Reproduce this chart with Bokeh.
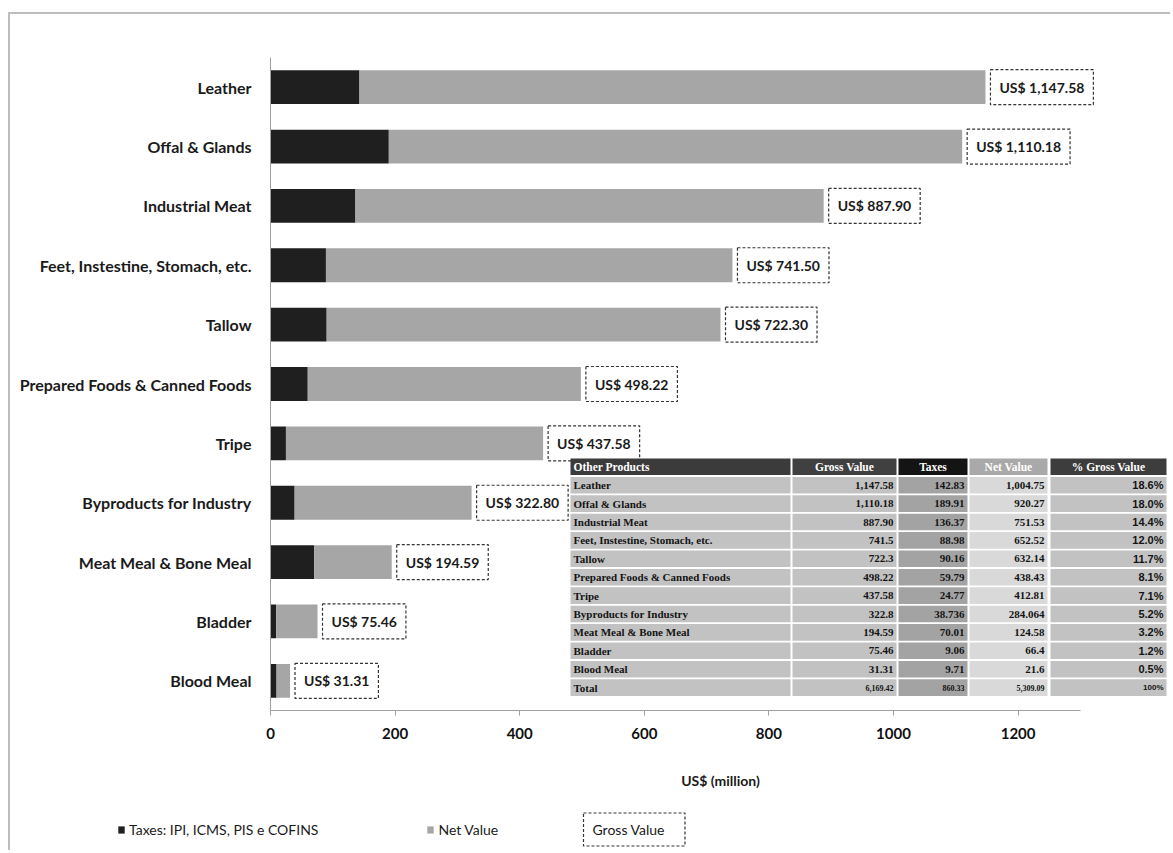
from bokeh.plotting import figure
from bokeh.layouts import column
from bokeh.models import (Range1d, Legend, LegendItem, Label, FixedTicker,
                          ColumnDataSource)
from bokeh.core.properties import value
from bokeh.embed import file_html
from bokeh.resources import INLINE

# ---------------- data ----------------
categories = ["Leather", "Offal & Glands", "Industrial Meat",
              "Feet, Instestine, Stomach, etc.", "Tallow",
              "Prepared Foods & Canned Foods", "Tripe",
              "Byproducts for Industry", "Meat Meal & Bone Meal",
              "Bladder", "Blood Meal"]
taxes = [142.83, 189.91, 136.37, 88.98, 90.16, 59.79, 24.77, 38.736, 70.01, 9.06, 9.71]
net_value = [1004.75, 920.27, 751.53, 652.52, 632.14, 438.43, 412.81, 284.064, 124.58, 66.4, 21.6]
gross_value = [1147.58, 1110.18, 887.90, 741.50, 722.30, 498.22, 437.58, 322.80, 194.59, 75.46, 31.31]
x_ticks = [0, 200, 400, 600, 800, 1000, 1200]

table_header = ["Other Products", "Gross Value", "Taxes", "Net Value", "% Gross Value"]
table_gross = ["1,147.58", "1,110.18", "887.90", "741.5", "722.3", "498.22",
               "437.58", "322.8", "194.59", "75.46", "31.31"]
table_taxes = ["142.83", "189.91", "136.37", "88.98", "90.16", "59.79",
               "24.77", "38.736", "70.01", "9.06", "9.71"]
table_net = ["1,004.75", "920.27", "751.53", "652.52", "632.14", "438.43",
             "412.81", "284.064", "124.58", "66.4", "21.6"]
table_pct = ["18.6%", "18.0%", "14.4%", "12.0%", "11.7%", "8.1%",
             "7.1%", "5.2%", "3.2%", "1.2%", "0.5%"]
table_total = ["Total", "6,169.42", "860.33", "5,309.09", "100%"]

TAX_COLOR, NET_COLOR = "#1f1f1f", "#a6a6a6"
BORDER = "2px solid #bdbdbd"

# ---------------- main figure ----------------
n = len(categories)
pos = list(range(n))  # category slots, top to bottom
W, H = 1160, 786
p = figure(width=W, height=H,
           y_range=Range1d(n - 0.5, -0.5),
           x_range=Range1d(0, 1444.6),
           output_backend="svg", toolbar_location=None,
           min_border_left=260, min_border_right=0,
           min_border_top=43, min_border_bottom=90)
p.outline_line_color = None
p.xgrid.visible = False
p.ygrid.visible = False

# helper ranges expressed in reference-page pixels (table layout)
p.extra_x_ranges = {"px": Range1d(270, 1170)}
p.extra_y_ranges = {"py": Range1d(710, 57)}

src = ColumnDataSource(dict(pos=pos, cat=categories, taxes=taxes, net=net_value, gross=gross_value,
                            label=["US$ {:,.2f}".format(g) for g in gross_value]))
r_tax, r_net = p.hbar_stack(["taxes", "net"], y="pos", height=0.57,
                            color=[TAX_COLOR, NET_COLOR], line_color=None, source=src)

# gross value labels in dashed boxes
p.text(x="gross", y="pos", text="label", source=src, x_offset=5,
       text_align="left", text_baseline="middle",
       text_font=value("Lato"), text_font_style="bold", text_font_size="14px",
       text_color="#1a1a1a", padding=9,
       border_line_color="#333333", border_line_dash="3 2", border_line_width=1.2,
       background_fill_color="white")

# axes
xa = p.xaxis[0]
xa.bounds = (0, 1300)
xa.ticker = x_ticks
xa.axis_line_color = "#a0a0a0"
xa.major_tick_line_color = "#a0a0a0"
xa.major_tick_out = 5
xa.major_tick_in = 0
xa.minor_tick_line_color = None
xa.major_label_text_font = "Lato"
xa.major_label_text_font_style = "bold"
xa.major_label_text_font_size = "15px"
xa.major_label_text_color = "#111111"
xa.major_label_standoff = 12
xa.axis_label = "US$ (million)"
xa.axis_label_text_font = "Lato"
xa.axis_label_text_font_style = "bold"
xa.axis_label_text_font_size = "14px"
xa.axis_label_text_color = "#1a1a1a"
xa.axis_label_standoff = 30

ya = p.yaxis[0]
ya.ticker = FixedTicker(ticks=pos)
ya.major_label_overrides = {i: c for i, c in zip(pos, categories)}
ya.axis_line_color = "#a0a0a0"
ya.major_tick_line_color = None
ya.minor_tick_line_color = None
ya.major_label_text_font = "Lato"
ya.major_label_text_font_style = "bold"
ya.major_label_text_font_size = "16px"
ya.major_label_text_color = "#1a1a1a"
ya.major_label_standoff = 13

# ---------------- table ----------------
col_left = [570, 792, 898, 969, 1050]
col_right = [790, 896, 967, 1047, 1166]
row_top0, row_pitch, row_h = 458, 18.4, 16.6
head_bg = ["#3b3b3b", "#404040", "#141414", "#a9a9a9", "#3d3d3d"]
body_bg = ["#c2c2c2", "#c2c2c2", "#a3a3a3", "#d9d9d9", "#c2c2c2"]

body_rows = [[c, g, t, nv, pc] for c, g, t, nv, pc in
             zip(categories, table_gross, table_taxes, table_net, table_pct)]
rows = [table_header] + body_rows + [table_total]

ql, qr, qt, qb, qc = [], [], [], [], []
tx, ty, tt, ta, tcol, tfont, tsize = [], [], [], [], [], [], []
for i, row in enumerate(rows):
    top = row_top0 + i * row_pitch
    for j, txt in enumerate(row):
        ql.append(col_left[j]); qr.append(col_right[j])
        qt.append(top); qb.append(top + row_h)
        qc.append(head_bg[j] if i == 0 else body_bg[j])
        ty.append(top + row_h / 2)
        tt.append(txt)
        if j == 0:
            tx.append(col_left[j] + 3); ta.append("left")
        elif i == 0:
            tx.append((col_left[j] + col_right[j]) / 2); ta.append("center")
        else:
            tx.append(col_right[j] - 3); ta.append("right")
        tcol.append("white" if i == 0 else "#141414")
        tfont.append("Liberation Sans" if (j == 4 and i > 0) else "Liberation Serif")
        if i == len(rows) - 1 and j > 0:
            tsize.append("8px")
        elif i == 0:
            tsize.append("11.5px")
        else:
            tsize.append("11px")

p.quad(left=ql, right=qr, top=qt, bottom=qb, fill_color=qc, line_color=None,
       x_range_name="px", y_range_name="py")
tsrc = ColumnDataSource(dict(x=tx, y=ty, text=tt, align=ta, color=tcol, font=tfont, size=tsize))
p.text(x="x", y="y", text="text", source=tsrc, text_align="align", text_baseline="middle",
       text_color="color", text_font="font", text_font_size="size", text_font_style="bold",
       x_range_name="px", y_range_name="py")

# ---------------- legend strip (separate root, page-pixel coordinates) ----------------
p2 = figure(width=W, height=50, x_range=Range1d(10, 1170), y_range=Range1d(850, 800),
            output_backend="svg", toolbar_location=None,
            x_axis_location=None, y_axis_location=None,
            min_border=0, min_border_left=0, min_border_right=0,
            min_border_top=0, min_border_bottom=0)
p2.outline_line_color = None
p2.xgrid.visible = False
p2.ygrid.visible = False
# zero-size proxies so the legend can draw its swatches
lt = p2.hbar(y=[825], left=[10], right=[10], height=0, color=TAX_COLOR, line_color=None)
ln = p2.hbar(y=[825], left=[10], right=[10], height=0, color=NET_COLOR, line_color=None)
legend = Legend(items=[LegendItem(label="Taxes: IPI, ICMS, PIS e COFINS", renderers=[lt]),
                       LegendItem(label="Net Value", renderers=[ln])],
                orientation="horizontal", location=(107, 11),
                glyph_width=8, glyph_height=9, spacing=108, padding=0, margin=0,
                label_standoff=4, label_height=20, border_line_color=None,
                background_fill_alpha=0,
                label_text_font="Lato", label_text_font_size="14px",
                label_text_color="#1a1a1a")
p2.add_layout(legend)
p2.add_layout(Label(x=583, y=829, text="Gross Value",
                    text_align="left", text_baseline="middle", text_font="Lato",
                    text_font_size="14px", text_color="#1a1a1a",
                    padding=dict(left=9, right=20, top=8, bottom=8),
                    border_line_color="#333333", border_line_dash="3 2",
                    border_line_width=1.2, background_fill_color="white"))

top_block = column(p, margin=(12, 0, 0, 8),
                   styles={"border-top": BORDER, "border-left": BORDER})
bottom_block = column(p2, margin=(0, 0, 0, 8), styles={"border-left": BORDER})

open("out.html", "w").write(file_html([top_block, bottom_block], INLINE))
